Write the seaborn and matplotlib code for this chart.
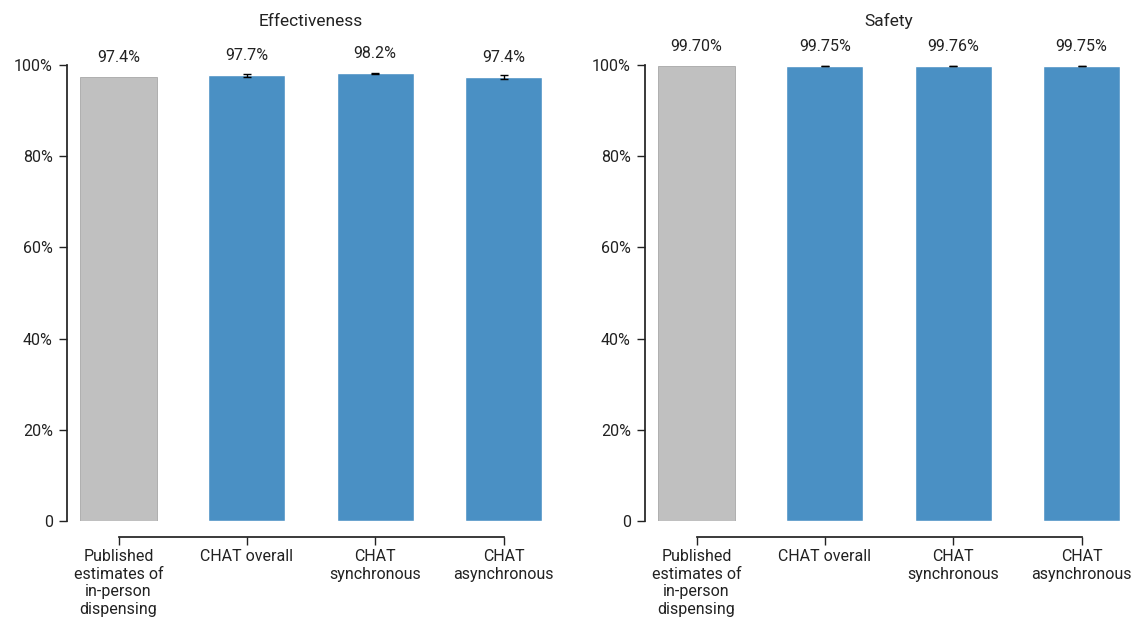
import numpy as np
import pandas as pd
import matplotlib
matplotlib.use("Agg")
import matplotlib.pyplot as plt
import seaborn as sns

# Categories shared by both panels
categories = ["Published\nestimates of\nin-person\ndispensing", "CHAT overall",
              "CHAT\nsynchronous", "CHAT\nasynchronous"]

# Effectiveness (%) with error half-widths
effectiveness = [97.4, 97.7, 98.2, 97.4]
effectiveness_err = [np.nan, 0.4, 0.1, 0.5]
effectiveness_labels = ["97.4%", "97.7%", "98.2%", "97.4%"]

# Safety (%) with error half-widths
safety = [99.70, 99.75, 99.76, 99.75]
safety_err = [np.nan, 0.05, 0.08, 0.05]
safety_labels = ["99.70%", "99.75%", "99.76%", "99.75%"]

bar_colors = ["#c0c0c0", "#4a90c4", "#4a90c4", "#4a90c4"]
ytick_vals = [0, 20, 40, 60, 80, 100]
ytick_labels = ["0", "20%", "40%", "60%", "80%", "100%"]

sns.set_theme(style="ticks")
plt.rcParams["font.family"] = ["Roboto", "DejaVu Sans"]
plt.rcParams["axes.edgecolor"] = "#222222"
plt.rcParams["xtick.color"] = "#222222"
plt.rcParams["ytick.color"] = "#222222"

fig = plt.figure(figsize=(11.33, 6.19), dpi=100)
ax1 = fig.add_axes([80 / 1133, 98 / 619, 462 / 1133, 456 / 619])
ax2 = fig.add_axes([658 / 1133, 98 / 619, 462 / 1133, 456 / 619])

panels = [
    (ax1, "Effectiveness", effectiveness, effectiveness_err, effectiveness_labels),
    (ax2, "Safety", safety, safety_err, safety_labels),
]

for ax, title, vals, errs, labels in panels:
    df = pd.DataFrame({"category": categories, "value": vals})
    sns.barplot(data=df, x="category", y="value", hue="category",
                palette=bar_colors, legend=False, width=0.6,
                saturation=1, ax=ax, errorbar=None)
    # grey bar gets a faint outline
    ax.patches[0].set_edgecolor("#a8a8a8")
    ax.patches[0].set_linewidth(0.6)
    ax.errorbar(np.arange(len(vals)), vals, yerr=errs, fmt="none",
                ecolor="black", elinewidth=1.0, capsize=3, capthick=1.0)
    for i, (v, lab) in enumerate(zip(vals, labels)):
        ax.annotate(lab, (i, v), xytext=(0, 12), textcoords="offset pixels",
                    ha="center", va="bottom", fontsize=11.5, color="#222222",
                    annotation_clip=False)
    ax.set_xlim(-0.3, 3.3)
    ax.set_ylim(0, 100)
    ax.set_yticks(ytick_vals)
    ax.set_yticklabels(ytick_labels)
    ax.set_xlabel("")
    ax.set_ylabel("")
    ax.tick_params(axis="both", labelsize=11.5, length=6, width=1, pad=4)
    ax.tick_params(axis="x", pad=3)
    for t in ax.get_xticklabels():
        t.set_linespacing(1.2)
    ax.set_title(title, fontsize=12.5, pad=28, color="#222222")
    sns.despine(ax=ax, offset={"left": 9.5, "bottom": 11.5}, trim=True)
    ax.spines["left"].set_bounds(0, 100)
    ax.spines["bottom"].set_bounds(0, 3)

fig.savefig("out.png", dpi=100)
